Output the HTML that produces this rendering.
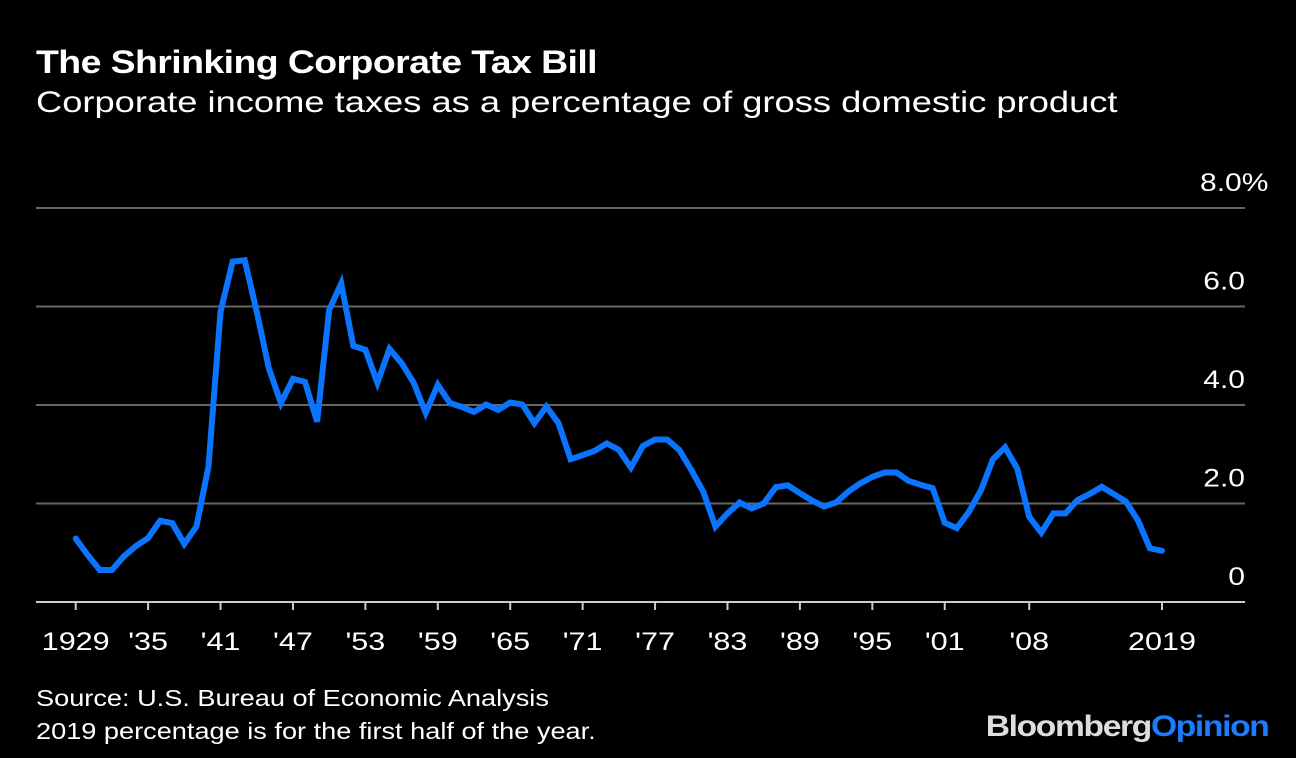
<!DOCTYPE html>
<html><head><meta charset="utf-8"><style>
body{margin:0;background:#000;width:1296px;height:758px;overflow:hidden;font-family:"Liberation Sans",sans-serif;color:#fff}
.t{position:absolute;left:36px;top:44px;font-size:32px;font-weight:bold;letter-spacing:-0.5px;transform:scaleX(1.17);transform-origin:left top;white-space:nowrap}
.s{position:absolute;left:36px;top:86px;font-size:30px;transform:scaleX(1.21);transform-origin:left top;white-space:nowrap}
.src{position:absolute;left:36px;top:682px;font-size:23px;line-height:33px;transform:scaleX(1.18);transform-origin:left top;white-space:nowrap}
.logo{position:absolute;right:28px;top:710px;font-size:30px;font-weight:bold;letter-spacing:-1.2px;transform:scaleX(1.12);transform-origin:right top;white-space:nowrap}
</style></head><body>
<div class="t">The Shrinking Corporate Tax Bill</div>
<div class="s">Corporate income taxes as a percentage of gross domestic product</div>
<svg id="c" width="1296" height="758" style="position:absolute;left:0;top:0"></svg>
<div class="src">Source: U.S. Bureau of Economic Analysis<br>2019 percentage is for the first half of the year.</div>
<div class="logo"><span style="color:#ddd">Bloomberg</span><span style="color:#1a7cff">Opinion</span></div>
<script>
const startYear = 1929;
const values = [1.29,0.95,0.65,0.65,0.93,1.14,1.30,1.65,1.60,1.18,1.53,2.75,5.89,6.91,6.94,5.89,4.75,4.04,4.53,4.47,3.66,5.93,6.47,5.20,5.12,4.45,5.14,4.85,4.45,3.84,4.41,4.04,3.96,3.86,4.01,3.90,4.05,4.01,3.63,3.97,3.63,2.90,2.98,3.07,3.22,3.09,2.73,3.17,3.30,3.30,3.09,2.68,2.24,1.53,1.80,2.02,1.90,2.00,2.33,2.37,2.21,2.06,1.94,2.02,2.24,2.41,2.54,2.63,2.63,2.46,2.38,2.31,1.61,1.50,1.83,2.27,2.90,3.14,2.71,1.73,1.41,1.80,1.80,2.07,2.19,2.34,2.19,2.04,1.66,1.09,1.04];
const yTicks = [0,2,4,6,8];
const yTickLabels = ["0","2.0","4.0","6.0","8.0%"];
const xTickYears = [1929,1935,1941,1947,1953,1959,1965,1971,1977,1983,1989,1995,2001,2008,2019];
const xTickLabels = ["1929","'35","'41","'47","'53","'59","'65","'71","'77","'83","'89","'95","'01","'08","2019"];
const svg = document.getElementById('c');
const NS = 'http://www.w3.org/2000/svg';
const x = yr => 75.7 + (yr - 1929) * 12.07;
const y = v => 602 - v * 49.25;
function mk(tag, attrs){const e=document.createElementNS(NS,tag);for(const k in attrs)e.setAttribute(k,attrs[k]);svg.appendChild(e);return e;}
function widen(t,f){const L=t.getComputedTextLength();t.setAttribute('textLength',(L*f).toFixed(1));t.setAttribute('lengthAdjust','spacingAndGlyphs');}
yTicks.forEach((v,i)=>{
  if(v>0){const g=mk('line',{x1:36,x2:1245,y1:y(v),y2:y(v),stroke:'#666','stroke-width':2});
  
  }
  const t=mk('text',{x:1245,y:y(v)-17,'text-anchor':'end',fill:'#fff','font-size':25,'font-family':'Liberation Sans, sans-serif'});
  if(i===yTicks.length-1){t.setAttribute('text-anchor','start');t.setAttribute('x',1200);}
  t.textContent=yTickLabels[i];
  
  
  widen(t,1.2);
});
const base=mk('line',{x1:36,x2:1245,y1:602,y2:602,stroke:'#ccc','stroke-width':2});


xTickYears.forEach((yr,i)=>{
  const tk=mk('line',{x1:x(yr),x2:x(yr),y1:602,y2:610,stroke:'#ccc','stroke-width':2});
  
  
  const t=mk('text',{x:x(yr),y:650,'text-anchor':'middle',fill:'#fff','font-size':25,'font-family':'Liberation Sans, sans-serif'});
  t.textContent=xTickLabels[i];
  
  
  widen(t,1.22);
});
const pts=values.map((v,i)=>x(startYear+i).toFixed(1)+','+y(v).toFixed(1)).join(' ');
const pl=mk('polyline',{points:pts,fill:'none',stroke:'#0a74ff','stroke-width':6,'stroke-linejoin':'miter','stroke-linecap':'round'});


</script>
</body></html>
